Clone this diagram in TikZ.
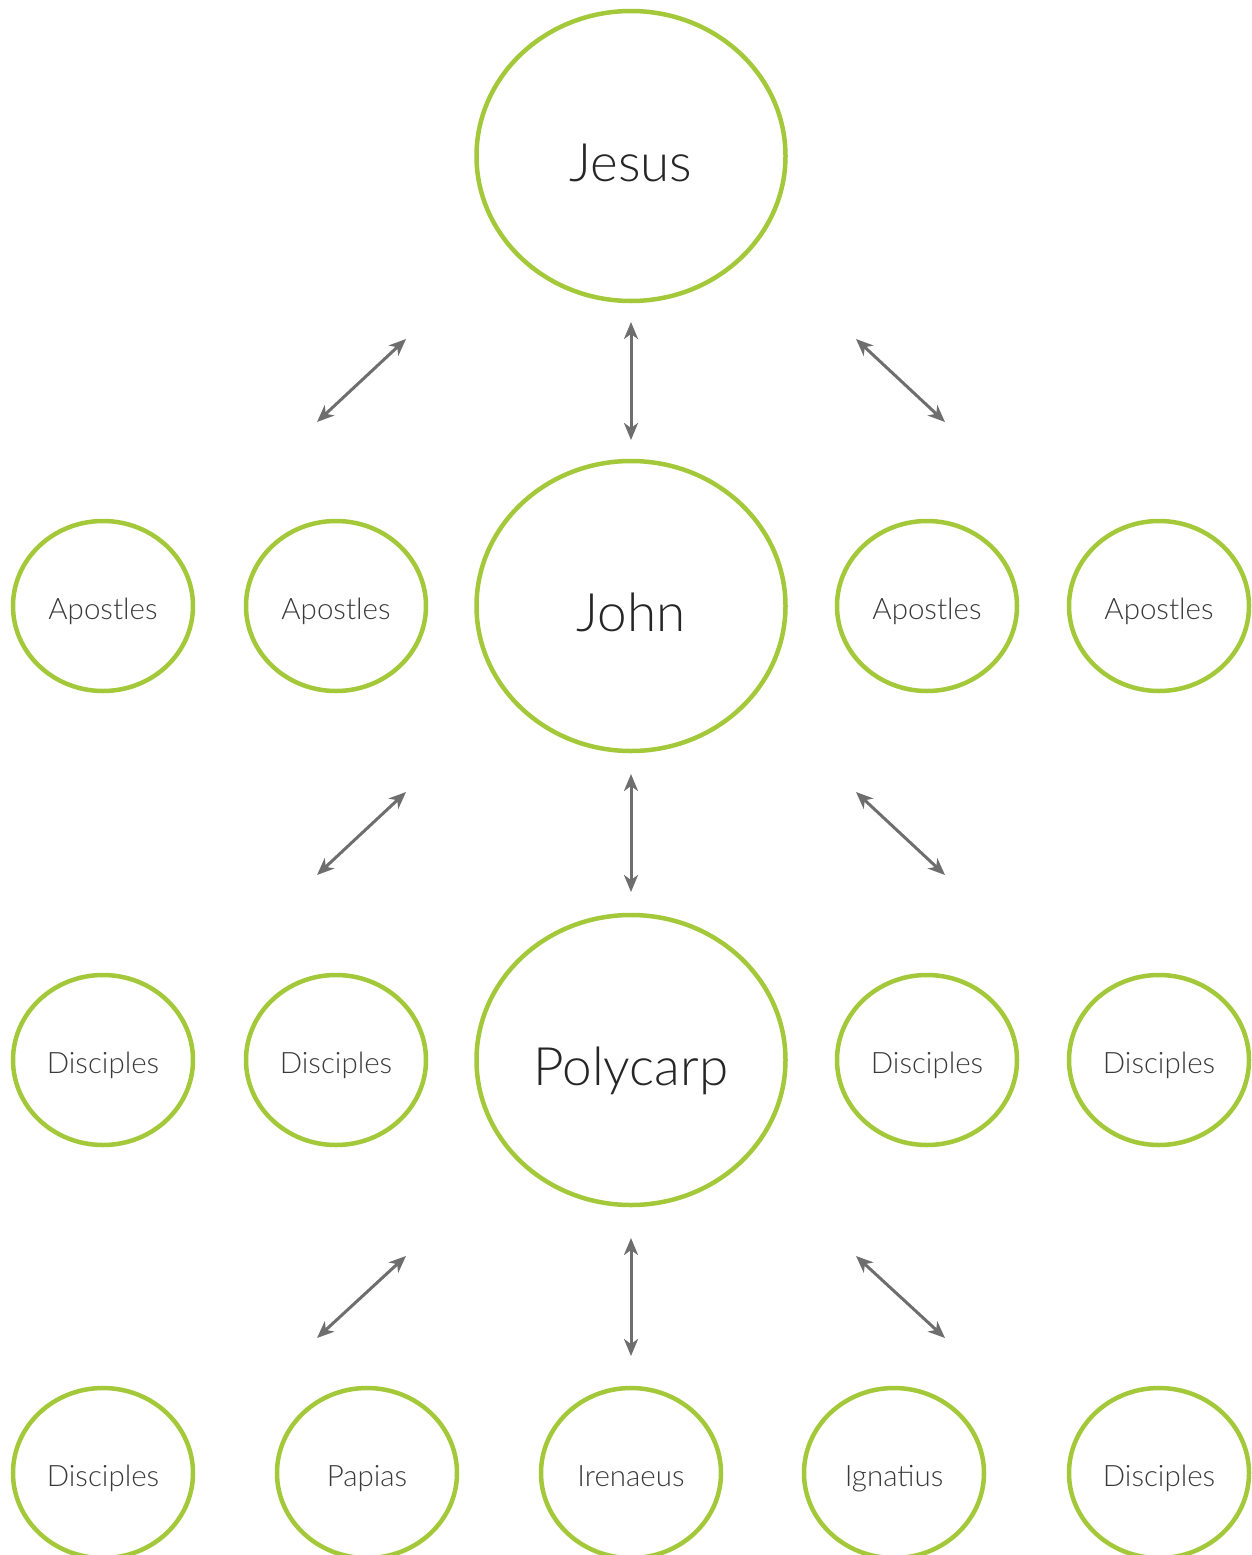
\documentclass[tikz,border=0pt]{standalone}
\usepackage{fontspec}
\setmainfont{Lato}[UprightFont={* Light}]
\usetikzlibrary{shapes.geometric,arrows.meta}

\definecolor{leaf}{HTML}{A3C93A}
\definecolor{arrowgray}{HTML}{6E6E6E}
\definecolor{inkgray}{HTML}{3A3A3A}

\tikzset{
  bigring/.style={ellipse, draw=leaf, line width=4.5pt, minimum width=309pt,
    minimum height=290pt, inner sep=0pt, text height=50pt, text depth=0pt,
    text=black!85, font=\fontsize{53}{60}\selectfont},
  smallring/.style={ellipse, draw=leaf, line width=4.5pt, minimum width=180pt,
    minimum height=170pt, inner sep=0pt, text height=26pt, text depth=0pt,
    text=inkgray, font=\fontsize{29.5}{34}\selectfont},
  link/.style={arrowgray, line width=3pt,
    {Stealth[length=17pt,width=14pt,inset=5pt]}-{Stealth[length=17pt,width=14pt,inset=5pt]}}
}

\begin{document}
\begin{tikzpicture}[x=1pt,y=-1pt]
\useasboundingbox (0,0) rectangle (1252,1555);

% Main line of succession
\node[bigring] (jesus) at (631,156) {Jesus};
\node[bigring] (john) at (631,606) {John};
\node[bigring] (polycarp) at (631,1060) {Polycarp};

% Apostles around John
\node[smallring] (ap1) at (103,606) {Apostles};
\node[smallring] (ap2) at (336,606) {Apostles};
\node[smallring] (ap3) at (927,606) {Apostles};
\node[smallring] (ap4) at (1159,606) {Apostles};

% Disciples around Polycarp
\node[smallring] (di1) at (103,1060) {Disciples};
\node[smallring] (di2) at (336,1060) {Disciples};
\node[smallring] (di3) at (927,1060) {Disciples};
\node[smallring] (di4) at (1159,1060) {Disciples};

% Bottom row (runs off the page)
\node[smallring] (dl) at (103,1473) {Disciples};
\node[smallring] (papias) at (367,1473) {Papias};
\node[smallring] (irenaeus) at (631,1473) {Irenaeus};
\node[smallring] (ignatius) at (894,1473) {Ignatius};
\node[smallring] (dr) at (1159,1473) {Disciples};

% Arrow end points
\coordinate (a1t) at (631,322);  \coordinate (a1b) at (631,440);
\coordinate (l1t) at (406,339);  \coordinate (l1b) at (317,422);
\coordinate (r1t) at (856,339);  \coordinate (r1b) at (945,422);
\coordinate (a2t) at (631,774);  \coordinate (a2b) at (631,892);
\coordinate (l2t) at (406,792);  \coordinate (l2b) at (317,875);
\coordinate (r2t) at (856,792);  \coordinate (r2b) at (945,875);
\coordinate (a3t) at (631,1238); \coordinate (a3b) at (631,1356);
\coordinate (l3t) at (406,1256); \coordinate (l3b) at (317,1338);
\coordinate (r3t) at (856,1256); \coordinate (r3b) at (945,1338);

% Double arrows between the rows
\draw[link] (a1t) -- (a1b);
\draw[link] (l1t) -- (l1b);
\draw[link] (r1t) -- (r1b);
\draw[link] (a2t) -- (a2b);
\draw[link] (l2t) -- (l2b);
\draw[link] (r2t) -- (r2b);
\draw[link] (a3t) -- (a3b);
\draw[link] (l3t) -- (l3b);
\draw[link] (r3t) -- (r3b);

\end{tikzpicture}
\end{document}
